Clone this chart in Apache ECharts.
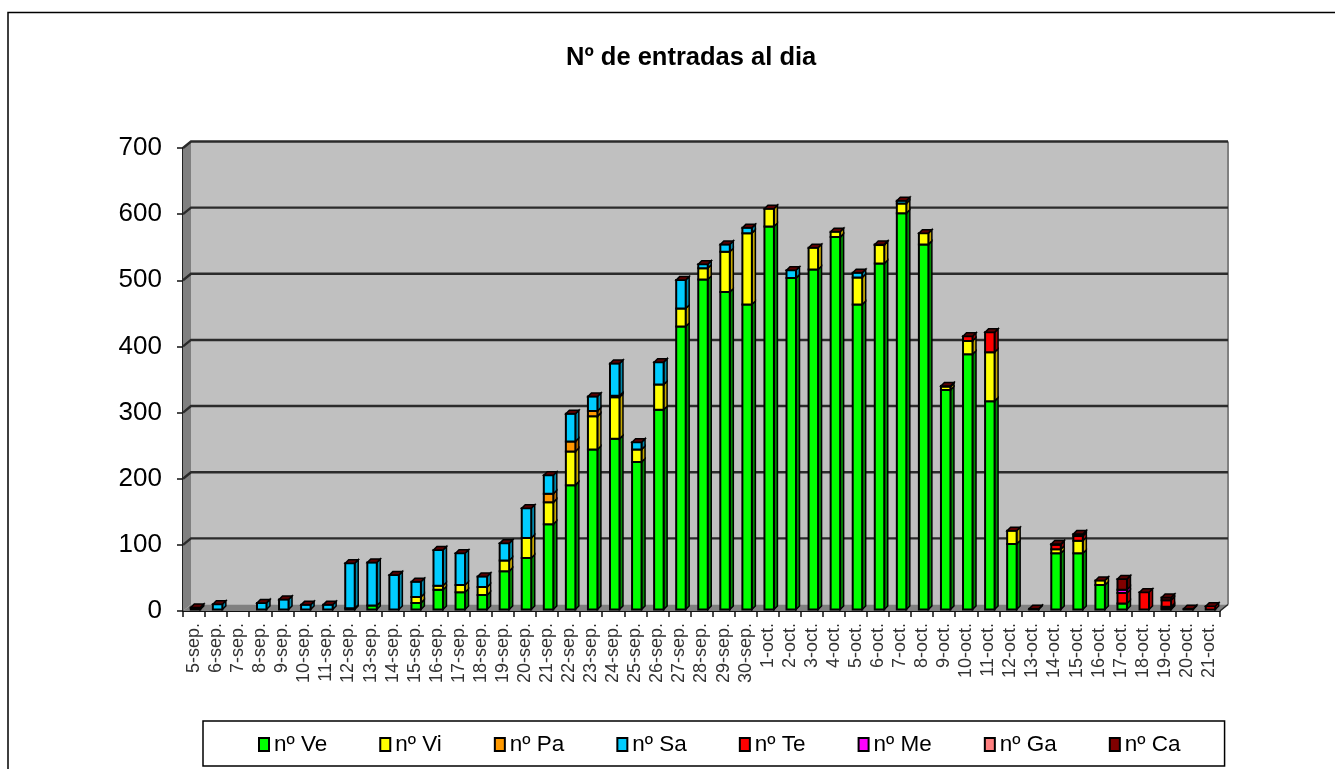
<!DOCTYPE html>
<html>
<head>
<meta charset="utf-8">
<title>Nº de entradas al dia</title>
<style>
html, body { margin: 0; padding: 0; background: #fff; }
#chart { width: 1335px; height: 769px; }
</style>
<script src="https://cdn.jsdelivr.net/npm/echarts@6/dist/echarts.min.js"></script>
</head>
<body>
<div id="chart"></div>
<script>
// dias
const days = [
	'5-sep.', '6-sep.', '7-sep.', '8-sep.', '9-sep.', '10-sep.', '11-sep.', '12-sep.', '13-sep.',
	'14-sep.', '15-sep.', '16-sep.', '17-sep.', '18-sep.', '19-sep.', '20-sep.', '21-sep.', '22-sep.',
	'23-sep.', '24-sep.', '25-sep.', '26-sep.', '27-sep.', '28-sep.', '29-sep.', '30-sep.',
	'1-oct.', '2-oct.', '3-oct.', '4-oct.', '5-oct.', '6-oct.', '7-oct.', '8-oct.', '9-oct.',
	'10-oct.', '11-oct.', '12-oct.', '13-oct.', '14-oct.', '15-oct.', '16-oct.', '17-oct.',
	'18-oct.', '19-oct.', '20-oct.', '21-oct.'
];
const yTicks = [0, 100, 200, 300, 400, 500, 600, 700];

// valores
const ve = [0, 0, 0, 0, 0, 0, 0, 2, 6, 0, 10, 30, 26, 22, 58, 78, 129, 188, 242, 258, 223, 302, 428, 499, 480, 461,
	579, 501, 514, 563, 461, 523, 599, 552, 332, 386, 315, 99, 0, 85, 85, 37, 9, 0, 1, 0, 0];
const vi = [0, 0, 0, 0, 0, 0, 0, 0, 0, 0, 9, 6, 11, 12, 16, 30, 33, 51, 50, 63, 19, 38, 27, 17, 61, 108,
	27, 0, 33, 8, 41, 28, 15, 17, 5, 20, 74, 20, 0, 6, 19, 7, 0, 0, 3, 0, 0];
const pa = [0, 0, 0, 0, 0, 0, 0, 0, 0, 0, 0, 0, 0, 0, 0, 0, 13, 15, 8, 2, 0, 0, 0, 0, 0, 0,
	0, 0, 0, 0, 0, 0, 0, 0, 0, 0, 0, 0, 0, 0, 0, 0, 0, 0, 0, 0, 0];
const sa = [3, 8, 0, 10, 15, 7, 7, 68, 65, 52, 23, 54, 48, 16, 26, 45, 28, 42, 22, 49, 11, 34, 43, 6, 11, 8,
	0, 12, 0, 0, 7, 0, 4, 0, 0, 0, 0, 0, 0, 0, 0, 0, 0, 0, 0, 0, 0];
const te = [0, 0, 0, 0, 0, 0, 0, 0, 0, 0, 0, 0, 0, 0, 0, 0, 0, 0, 0, 0, 0, 0, 0, 0, 0, 0,
	0, 0, 0, 0, 0, 0, 0, 0, 0, 7, 30, 0, 0, 7, 7, 0, 16, 26, 10, 0, 5];
const me = [0, 0, 0, 0, 0, 0, 0, 0, 0, 0, 0, 0, 0, 0, 0, 0, 0, 0, 0, 0, 0, 0, 0, 0, 0, 0,
	0, 0, 0, 0, 0, 0, 0, 0, 0, 0, 0, 0, 0, 0, 0, 0, 5, 0, 0, 0, 0];
const ga = [0, 0, 0, 0, 0, 0, 0, 0, 0, 0, 0, 0, 0, 0, 0, 0, 0, 0, 0, 0, 0, 0, 0, 0, 0, 0,
	0, 0, 0, 0, 0, 0, 0, 0, 0, 0, 0, 0, 0, 0, 0, 0, 0, 0, 0, 0, 0];
const ca = [0, 0, 0, 0, 0, 0, 0, 0, 0, 0, 0, 0, 0, 0, 0, 0, 0, 0, 0, 0, 0, 0, 0, 0, 0, 0,
	0, 0, 0, 0, 0, 1, 0, 0, 1, 0, 0, 0, 1, 1, 3, 0, 16, 0, 4, 1, 0];

const seriesNames = ['nº Ve', 'nº Vi', 'nº Pa', 'nº Sa', 'nº Te', 'nº Me', 'nº Ga', 'nº Ca'];
const seriesValues = [ve, vi, pa, sa, te, me, ga, ca];
const frontColors = ['#00ff00', '#ffff00', '#ff9900', '#00ccff', '#ff0000', '#ff00ff', '#ff8080', '#800000'];
const sideColors = ['#008c00', '#c4a800', '#b36b00', '#0088aa', '#a80000', '#a800a8', '#b35a5a', '#560000'];

var myChart = echarts.init(document.getElementById('chart'), null, { renderer: 'canvas' });

// profundidad de las paredes y de las columnas, en px
const wallDx = 8, wallDy = 6.5;
const barDx = 3.5, barDy = 3.5;
const barShift = 1.5;

function poly(points, fill, stroke, width) {
	return {
		type: 'polygon',
		shape: { points: points },
		style: { fill: fill, stroke: stroke || null, lineWidth: width || 0 }
	};
}

// paredes, suelo y lineas de division
function renderWalls(params, api) {
	const g = params.coordSys;
	const left = g.x, right = g.x + g.width, top = g.y, bottom = g.y + g.height;
	const children = [
		poly([[left + wallDx, top - wallDy], [right + wallDx, top - wallDy], [right + wallDx, bottom - wallDy], [left + wallDx, bottom - wallDy]], '#c0c0c0'),
		poly([[left, top], [left + wallDx, top - wallDy], [left + wallDx, bottom - wallDy], [left, bottom]], '#808080'),
		poly([[left, bottom], [left + wallDx, bottom - wallDy], [right + wallDx, bottom - wallDy], [right, bottom]], '#808080'),
		{
			type: 'line',
			shape: { x1: right + wallDx, y1: top - wallDy, x2: right + wallDx, y2: bottom - wallDy },
			style: { stroke: '#808080', lineWidth: 2 }
		},
		{
			type: 'line',
			shape: { x1: right, y1: bottom, x2: right + wallDx, y2: bottom - wallDy },
			style: { stroke: '#222', lineWidth: 1.5 }
		}
	];
	yTicks.forEach(function (t) {
		if (t === 0) return;
		const y = api.coord([0, t])[1];
		children.push({
			type: 'polyline',
			shape: { points: [[left, y], [left + wallDx, y - wallDy], [right + wallDx, y - wallDy]] },
			style: { fill: null, stroke: '#2b2b2b', lineWidth: 2.4 }
		});
	});
	return { type: 'group', children: children };
}

// cada tramo de la columna: cara frontal y lateral; la ultima serie pone la tapa
function makeRenderBar(seriesIndex) {
	return function (params, api) {
		const i = api.value(0);
		const from = api.value(1), to = api.value(2);
		const w = api.size([1, 0])[0] * 0.43;
		const p0 = api.coord([i, from]);
		const p1 = api.coord([i, to]);
		const x0 = p0[0] - w / 2 + barShift, x1 = x0 + w;
		const yb = p0[1] - barShift, yt = p1[1] - barShift;
		const children = [];
		if (to > from) {
			children.push(poly([[x1, yb], [x1 + barDx, yb - barDy], [x1 + barDx, yt - barDy], [x1, yt]], sideColors[seriesIndex], '#000', 1.5));
			children.push(poly([[x0, yb], [x1, yb], [x1, yt], [x0, yt]], frontColors[seriesIndex], '#000', 2));
		}
		if (seriesIndex === seriesValues.length - 1 && to > 0) {
			children.push(poly([[x0, yt], [x1, yt], [x1 + barDx, yt - barDy], [x0 + barDx, yt - barDy]], '#5a0000', '#000', 1.5));
		}
		return { type: 'group', children: children };
	};
}

// acumulado por dia
let running = days.map(function () { return 0; });
const barSeries = seriesNames.map(function (name, s) {
	const rows = days.map(function (d, i) {
		const from = running[i];
		running[i] = from + seriesValues[s][i];
		return [i, from, running[i]];
	});
	return {
		name: name,
		type: 'custom',
		renderItem: makeRenderBar(s),
		encode: { x: 0, y: [1, 2] },
		data: rows,
		itemStyle: { color: frontColors[s] },
		z: 3 + s,
		silent: true
	};
});

const option = {
	animation: false,
	backgroundColor: '#fff',
	color: frontColors,
	textStyle: { fontFamily: '"Liberation Sans", Arial, sans-serif' },
	title: {
		text: 'Nº de entradas al dia',
		left: 561,
		top: 40,
		textStyle: { fontSize: 25.5, fontWeight: 'bold', color: '#000', fontFamily: '"Liberation Sans", Arial, sans-serif' }
	},
	graphic: [
		{
			type: 'rect',
			silent: true,
			shape: { x: 8, y: 12.5, width: 1400, height: 900 },
			style: { fill: null, stroke: '#000', lineWidth: 1.5 }
		}
	],
	grid: { left: 183, right: 115, top: 148, bottom: 158 },
	xAxis: {
		type: 'category',
		data: days,
		axisLine: { lineStyle: { color: '#111', width: 2 } },
		axisTick: { show: true, length: 6, alignWithLabel: false, interval: 0, lineStyle: { color: '#111', width: 1.5 } },
		axisLabel: { interval: 0, rotate: 90, fontSize: 18, margin: 12, color: '#333', fontFamily: '"Liberation Sans", Arial, sans-serif' }
	},
	yAxis: {
		type: 'value',
		min: 0,
		max: 700,
		interval: 100,
		splitLine: { show: false },
		axisLine: { show: true, lineStyle: { color: '#222', width: 2 } },
		axisTick: { show: true, length: 6, lineStyle: { color: '#111', width: 1.5 } },
		axisLabel: { fontSize: 26, margin: 21, color: '#000', fontFamily: '"Liberation Sans", Arial, sans-serif' }
	},
	legend: {
		left: 203,
		top: 721,
		orient: 'horizontal',
		padding: [12, 44, 10, 55],
		itemWidth: 10,
		itemHeight: 13,
		itemGap: 52,
		icon: 'rect',
		borderColor: '#000',
		borderWidth: 1.5,
		itemStyle: { borderColor: '#000', borderWidth: 2 },
		textStyle: { fontSize: 22.5, color: '#000', padding: [0, 0, 0, 0], fontFamily: '"Liberation Sans", Arial, sans-serif' },
		data: seriesNames
	},
	series: [
		{
			type: 'custom',
			renderItem: renderWalls,
			encode: { x: 0, y: 1 },
			data: [[0, 0]],
			z: 1,
			silent: true
		}
	].concat(barSeries)
};

myChart.setOption(option);
</script>
</body>
</html>
